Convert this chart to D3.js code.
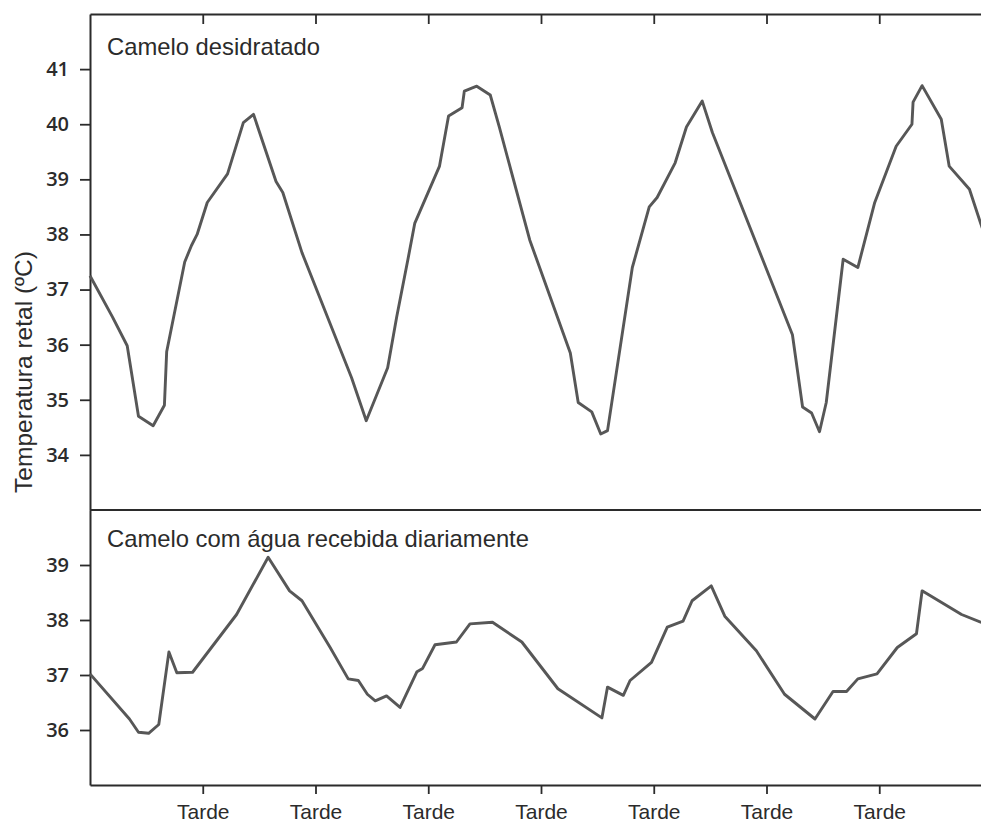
<!DOCTYPE html>
<html>
<head>
<meta charset="utf-8">
<script src="https://cdn.jsdelivr.net/npm/d3@7"></script>
<style>
  html, body { margin: 0; padding: 0; background: #ffffff; }
  svg { display: block; }
</style>
</head>
<body>
<svg id="chart" width="981" height="825"></svg>
<script>
// Rectal temperature of camels over eight days (x in days, 1..7 = afternoons)
const dayTicks = [1, 2, 3, 4, 5, 6, 7];
const dayLabel = "Tarde";

const dehydratedDays = [0.00, 0.20, 0.33, 0.43, 0.56, 0.66, 0.68, 0.84, 0.90, 0.95, 1.04, 1.22, 1.36, 1.45,
  1.65, 1.71, 1.88, 2.32, 2.45, 2.64, 2.72, 2.82, 2.88, 3.10, 3.18, 3.30, 3.32, 3.43, 3.55, 3.63, 3.90,
  4.26, 4.33, 4.45, 4.53, 4.59, 4.81, 4.96, 5.03, 5.19, 5.29, 5.43, 5.52, 6.23, 6.32, 6.40, 6.47, 6.53,
  6.68, 6.81, 6.96, 7.15, 7.29, 7.30, 7.38, 7.55, 7.62, 7.80, 7.90, 8.00];
const dehydratedTemp = [37.25, 36.5, 35.98, 34.7, 34.53, 34.9, 35.87, 37.5, 37.8, 38.0, 38.58, 39.1, 40.03, 40.18,
  38.96, 38.76, 37.67, 35.4, 34.62, 35.58, 36.5, 37.55, 38.2, 39.24, 40.15, 40.3, 40.6, 40.69, 40.53, 39.95, 37.9,
  35.85, 34.95, 34.78, 34.38, 34.44, 37.4, 38.5, 38.67, 39.3, 39.95, 40.42, 39.85, 36.18, 34.87, 34.76, 34.42, 34.95,
  37.55, 37.4, 38.58, 39.6, 40.0, 40.4, 40.7, 40.09, 39.24, 38.82, 38.2, 37.6];

const wateredDays = [0.00, 0.35, 0.43, 0.52, 0.61, 0.70, 0.77, 0.91, 1.30, 1.58, 1.77, 1.88, 2.13, 2.29, 2.38,
  2.46, 2.53, 2.63, 2.75, 2.90, 2.95, 3.06, 3.25, 3.37, 3.57, 3.83, 4.15, 4.54, 4.59, 4.73, 4.79, 4.98, 5.12,
  5.26, 5.34, 5.51, 5.63, 5.91, 6.16, 6.43, 6.59, 6.71, 6.81, 6.98, 7.16, 7.33, 7.38, 7.73, 7.90, 8.00];
const wateredTemp = [37.02, 36.2, 35.96, 35.94, 36.1, 37.42, 37.04, 37.05, 38.1, 39.14, 38.53, 38.35, 37.5, 36.93, 36.9,
  36.65, 36.53, 36.62, 36.41, 37.06, 37.12, 37.55, 37.6, 37.93, 37.96, 37.6, 36.75, 36.22, 36.78, 36.63, 36.9, 37.23, 37.87,
  37.98, 38.35, 38.62, 38.07, 37.44, 36.65, 36.2, 36.7, 36.7, 36.93, 37.02, 37.5, 37.75, 38.53, 38.1, 37.96, 37.9];

const topTicks = [34, 35, 36, 37, 38, 39, 40, 41];
const bottomTicks = [36, 37, 38, 39];

const panelTitles = ["Camelo desidratado", "Camelo com água recebida diariamente"];
const yTitle = "Temperatura retal (ºC)";

const ink = "#2b2b2b";
const lineInk = "#575757";
const svg = d3.select("#chart");

const left = 90, right = 992;
const x = d3.scaleLinear().domain([0, 8]).range([left, right]);
const yTop = d3.scaleLinear().domain([33, 42]).range([510, 14]);
const yBot = d3.scaleLinear().domain([35, 40]).range([785, 510]);
const intFmt = d3.format("d");

function styleAxis(g) {
  g.selectAll("path.domain").attr("stroke", ink).attr("stroke-width", 2);
  g.selectAll(".tick line").attr("stroke", ink).attr("stroke-width", 1.8);
  g.selectAll(".tick text")
    .attr("fill", ink)
    .style("font-family", "'Open Sans', sans-serif")
    .style("font-weight", 600)
    .style("font-size", "20px");
}

// Left value axes
svg.append("g").attr("transform", `translate(${left},0)`)
  .call(d3.axisLeft(yTop).tickValues(topTicks).tickFormat(intFmt).tickSize(10).tickPadding(11).tickSizeOuter(0))
  .call(styleAxis);
svg.append("g").attr("transform", `translate(${left},0)`)
  .call(d3.axisLeft(yBot).tickValues(bottomTicks).tickFormat(intFmt).tickSize(10).tickPadding(11).tickSizeOuter(0))
  .call(styleAxis);

// Right frame edge with inward ticks
svg.append("g").attr("transform", `translate(${right},0)`)
  .call(d3.axisLeft(yTop).tickValues(topTicks).tickSize(-10).tickFormat("").tickSizeOuter(0))
  .call(styleAxis);
svg.append("g").attr("transform", `translate(${right},0)`)
  .call(d3.axisLeft(yBot).tickValues(bottomTicks).tickSize(-10).tickFormat("").tickSizeOuter(0))
  .call(styleAxis);

// Top frame with inward ticks
svg.append("g").attr("transform", `translate(0,${yTop(42)})`)
  .call(d3.axisTop(x).tickValues(dayTicks).tickSize(-10).tickFormat("").tickSizeOuter(0))
  .call(styleAxis);

// Divider between the panels
svg.append("line")
  .attr("x1", left).attr("x2", right)
  .attr("y1", yTop(33)).attr("y2", yTop(33))
  .attr("stroke", ink).attr("stroke-width", 2);

// Bottom time axis
const xAxisG = svg.append("g").attr("transform", `translate(0,${yBot(35)})`)
  .call(d3.axisBottom(x).tickValues(dayTicks).tickSize(9).tickPadding(10).tickFormat(() => dayLabel).tickSizeOuter(0))
  .call(styleAxis);
xAxisG.selectAll(".tick text")
  .style("font-family", "'Liberation Sans', Arial, sans-serif")
  .style("font-weight", 400)
  .style("font-size", "21px");

// Temperature lines
const lineTop = d3.line().x(d => x(d[0])).y(d => yTop(d[1]));
const lineBot = d3.line().x(d => x(d[0])).y(d => yBot(d[1]));

svg.append("path")
  .datum(d3.zip(dehydratedDays, dehydratedTemp))
  .attr("d", lineTop)
  .attr("fill", "none").attr("stroke", lineInk)
  .attr("stroke-width", 2.9).attr("stroke-linejoin", "round");

svg.append("path")
  .datum(d3.zip(wateredDays, wateredTemp))
  .attr("d", lineBot)
  .attr("fill", "none").attr("stroke", lineInk)
  .attr("stroke-width", 2.9).attr("stroke-linejoin", "round");

// Panel titles
const titleFont = "'Liberation Sans', Arial, sans-serif";
svg.append("text")
  .attr("x", 107).attr("y", 55)
  .attr("fill", ink)
  .style("font-family", titleFont).style("font-size", "23.8px")
  .text(panelTitles[0]);
svg.append("text")
  .attr("x", 107).attr("y", 547)
  .attr("fill", ink)
  .style("font-family", titleFont).style("font-size", "23.8px")
  .text(panelTitles[1]);

// Shared y-axis title
svg.append("text")
  .attr("transform", "translate(32,372) rotate(-90)")
  .attr("text-anchor", "middle")
  .attr("fill", ink)
  .style("font-family", titleFont).style("font-size", "24.5px")
  .text(yTitle);
</script>
</body>
</html>
